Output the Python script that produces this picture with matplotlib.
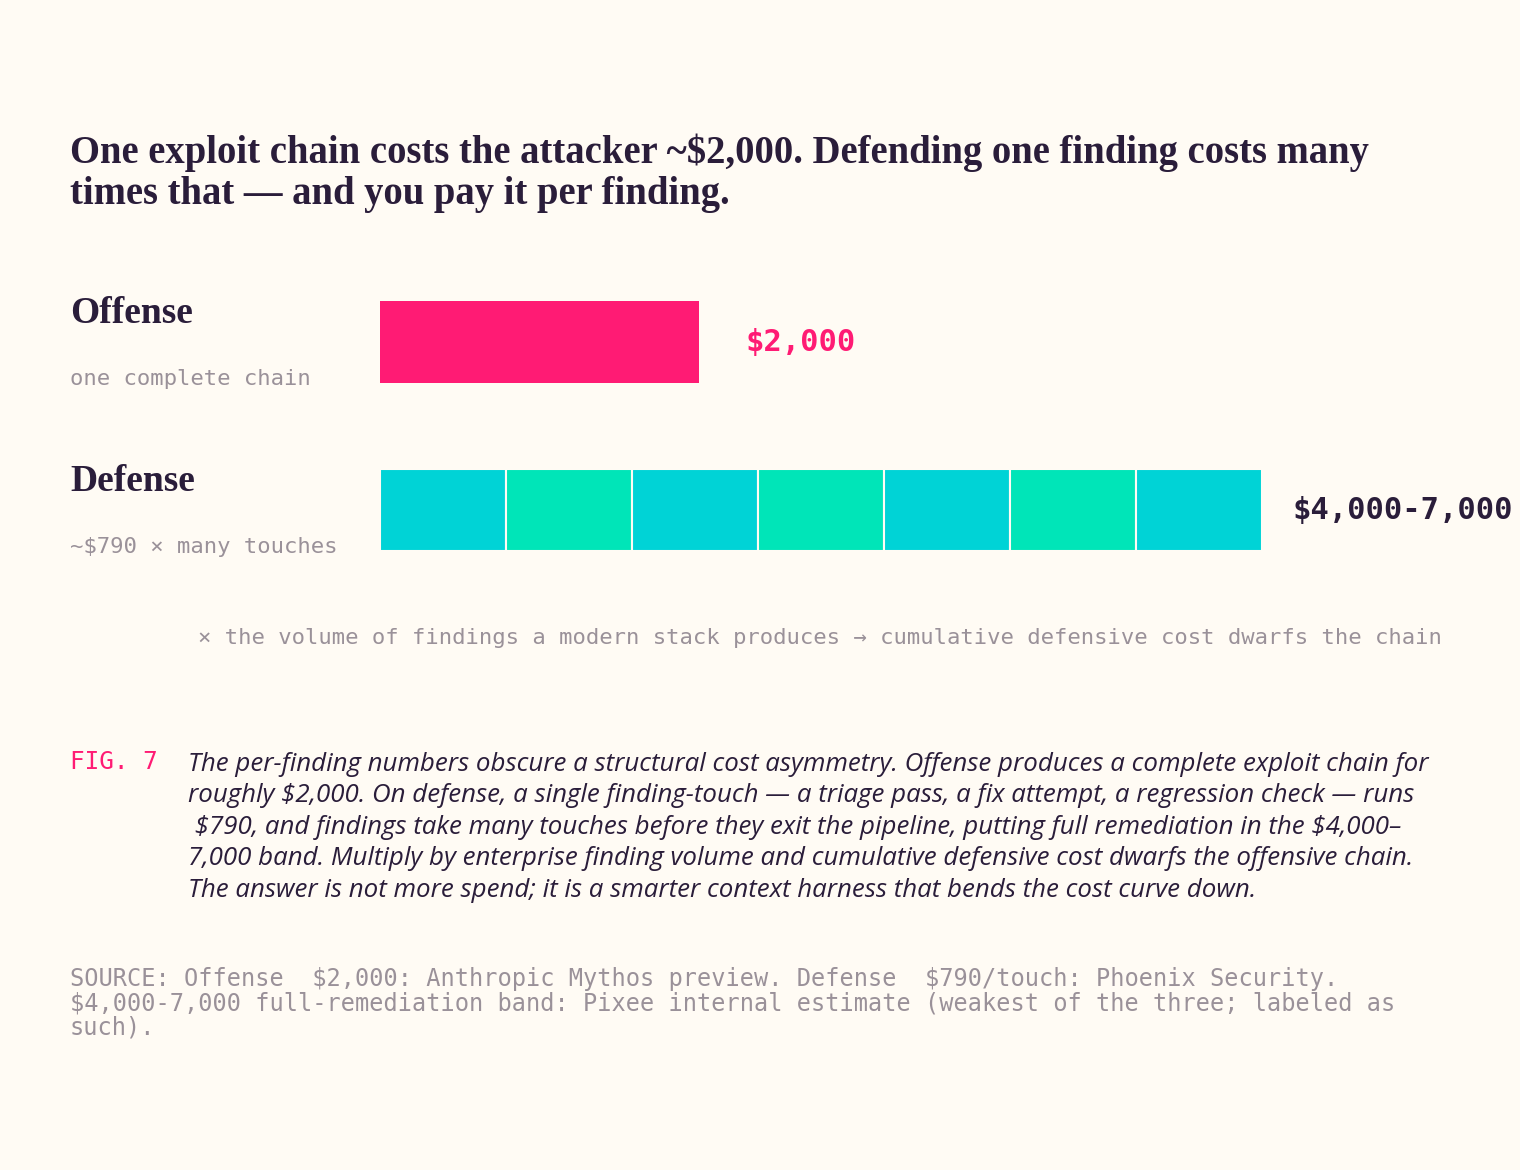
import matplotlib.pyplot as plt

plt.rcParams['text.parse_math'] = False

# data
categories = ['Offense', 'Defense']
subtitles = ['one complete chain', '~$790 × many touches']
offense_cost = 2000
touch_cost = 790
n_touches = 7
value_labels = ['$2,000', '$4,000-7,000']

title = ('One exploit chain costs the attacker ~$2,000. Defending one finding costs many\n'
         'times that — and you pay it per finding.')
note = '× the volume of findings a modern stack produces → cumulative defensive cost dwarfs the chain'
caption = ('The per-finding numbers obscure a structural cost asymmetry. Offense produces a complete exploit chain for\n'
           'roughly $2,000. On defense, a single finding-touch — a triage pass, a fix attempt, a regression check — runs\n'
           ' $790, and findings take many touches before they exit the pipeline, putting full remediation in the $4,000–\n'
           '7,000 band. Multiply by enterprise finding volume and cumulative defensive cost dwarfs the offensive chain.\n'
           'The answer is not more spend; it is a smarter context harness that bends the cost curve down.')
source = ('SOURCE: Offense  $2,000: Anthropic Mythos preview. Defense  $790/touch: Phoenix Security.\n'
          '$4,000-7,000 full-remediation band: Pixee internal estimate (weakest of the three; labeled as\n'
          'such).')

# style
BG = '#fffbf4'
INK = '#2a1d3a'
GREY = '#9a9199'
PINK = '#ff1b74'
CYAN = '#00d3d6'
GREEN = '#00e5b8'
SERIF = 'Liberation Serif'
MONO = 'DejaVu Sans Mono'
SANS = 'Open Sans'

W, H = 1520, 1170
fig = plt.figure(figsize=(W / 100, H / 100), dpi=100, facecolor=BG)

# full-page axes in pixel coords for text
page = fig.add_axes([0, 0, 1, 1])
page.set_xlim(0, W)
page.set_ylim(H, 0)
page.axis('off')
page.set_facecolor(BG)

page.text(70, 134, title, fontfamily=SERIF, fontweight='bold', fontsize=27.8,
          color=INK, va='top', linespacing=1.12)

row_y = [342, 510]
for cat, sub, y in zip(categories, subtitles, row_y):
    page.text(70, y - 19, cat, fontfamily=SERIF, fontweight='bold', fontsize=27,
              color=INK, va='baseline')
    page.text(70, y + 37, sub, fontfamily=MONO, fontsize=16, color=GREY, va='center')

page.text(198, 638, note, fontfamily=MONO, fontsize=16, color=GREY, va='center')

page.text(70, 762, 'FIG. 7', fontfamily=MONO, fontsize=17.5, color=PINK, va='center')
page.text(188, 752, caption, fontfamily=SANS, fontstyle='italic', fontsize=18.6,
          color=INK, va='top', linespacing=1.34)

page.text(70, 967, source, fontfamily=MONO, fontsize=17, color=GREY, va='top',
          linespacing=1.02)

# bar axes
x0, x1, ytop, ybot = 380, W, 280, 580
ax = fig.add_axes([x0 / W, (H - ybot) / H, (x1 - x0) / W, (ybot - ytop) / H])
ax.set_xlim(0, (x1 - x0) / (319 / offense_cost))
ax.set_ylim(ybot, ytop)
ax.axis('off')
ax.patch.set_alpha(0)

bar_h = 82
ax.barh(row_y[0], offense_cost, height=bar_h, color=PINK, edgecolor='none')
lefts = [i * touch_cost for i in range(n_touches)]
colors = [CYAN if i % 2 == 0 else GREEN for i in range(n_touches)]
ax.barh([row_y[1]] * n_touches, [touch_cost] * n_touches, left=lefts, height=bar_h,
        color=colors, edgecolor=BG, linewidth=1.5)

ax.annotate(value_labels[0], xy=(offense_cost, row_y[0]), xytext=(46, 0),
            textcoords='offset pixels', fontfamily=MONO, fontweight='bold',
            fontsize=22, color=PINK, va='center')
ax.annotate(value_labels[1], xy=(n_touches * touch_cost, row_y[1]), xytext=(30, 0),
            textcoords='offset pixels', fontfamily=MONO, fontweight='bold',
            fontsize=22, color=INK, va='center')

fig.savefig('out.png', dpi=100, facecolor=BG)
